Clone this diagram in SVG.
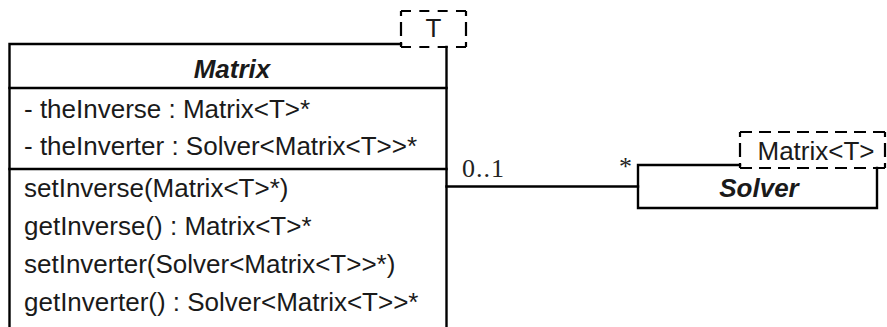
<svg xmlns="http://www.w3.org/2000/svg" width="887" height="327" viewBox="0 0 887 327">
  <style>
    .edge { fill: none; stroke: #000; stroke-width: 2.4; stroke-linecap: square; }
    .dash { fill: none; stroke: #000; stroke-width: 2.2; }
    .dv { stroke-dasharray: 5 6 14 6 5 100; }
    .dh-t { stroke-dasharray: 10 8.33 10 8.33 10 8.33 10 100; }
    .dh-m { stroke-dasharray: 12 7; }
    .txt { font-family: "Liberation Sans", Arial, sans-serif; font-size: 26px; fill: #1a1a1a; }
    .title { font-family: "Liberation Sans", Arial, sans-serif; font-size: 26px; font-weight: bold; font-style: italic; fill: #1a1a1a; text-anchor: middle; }
    .mult { font-family: "Liberation Serif", "Times New Roman", serif; font-size: 26px; fill: #222; }
  </style>
  <rect width="887" height="327" fill="#fff"/>

  <!-- class Matrix with template parameter T -->
  <g id="matrix">
    <path class="edge" d="M9.5 327 V44 H401"/>
    <path class="edge" d="M446.5 47 V327"/>
    <path class="edge" d="M9.5 88 H446.5 M9.5 169 H446.5"/>
    <path class="dash dh-t" d="M401 11 H466 M401 47 H466"/>
    <path class="dash dv" d="M401 11 V47 M466 11 V47"/>
    <text class="txt" x="433.5" y="37" text-anchor="middle">T</text>
    <text class="title" x="232" y="78">Matrix</text>
    <text class="txt" x="24" y="118">- theInverse : Matrix&lt;T&gt;*</text>
    <text class="txt" x="24" y="155">- theInverter : Solver&lt;Matrix&lt;T&gt;&gt;*</text>
    <text class="txt" x="24" y="197">setInverse(Matrix&lt;T&gt;*)</text>
    <text class="txt" x="24" y="235">getInverse() : Matrix&lt;T&gt;*</text>
    <text class="txt" x="24" y="273">setInverter(Solver&lt;Matrix&lt;T&gt;&gt;*)</text>
    <text class="txt" x="24" y="311">getInverter() : Solver&lt;Matrix&lt;T&gt;&gt;*</text>
  </g>

  <!-- class Solver with template parameter Matrix<T> -->
  <g id="solver">
    <path class="edge" d="M740 165 H638 V208 H877 V168"/>
    <path class="dash dh-m" d="M740 132 H885 M740 168 H885"/>
    <path class="dash dv" d="M740 132 V168 M885 132 V168"/>
    <text class="txt" x="816" y="160" text-anchor="middle">Matrix&lt;T&gt;</text>
    <text class="title" x="759" y="197">Solver</text>
  </g>

  <!-- association Matrix 0..1 — * Solver -->
  <g id="connectors">
    <path class="edge" d="M446.5 186.5 H638"/>
    <text class="mult" x="462" y="177" letter-spacing="1">0..1</text>
    <text class="mult" x="619" y="175">*</text>
  </g>
</svg>
